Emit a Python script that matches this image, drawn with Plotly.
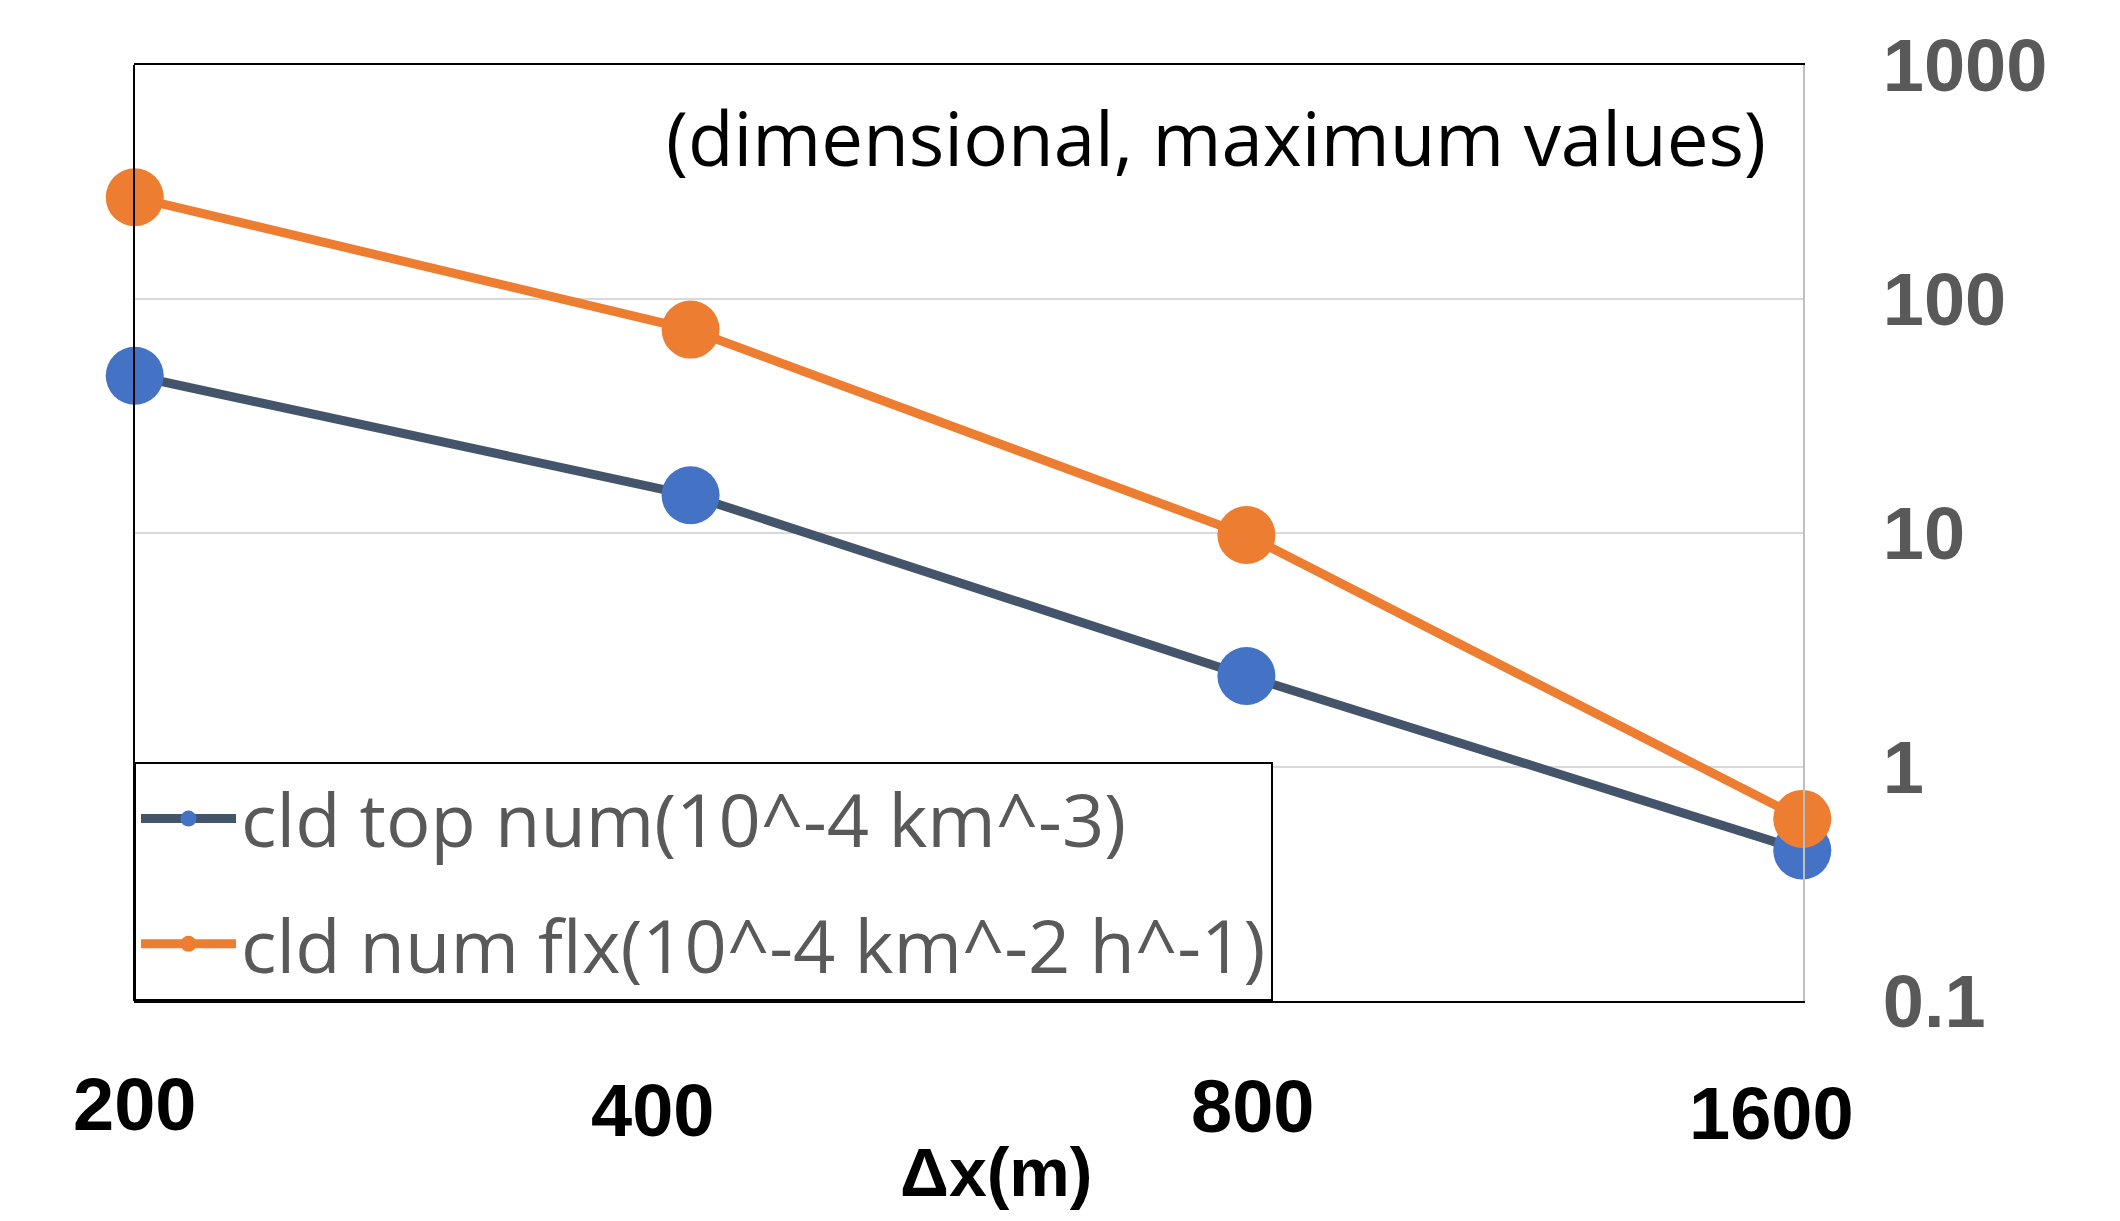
import numpy as np
import plotly.graph_objects as go

# ---- data ----
dx_m = [200, 400, 800, 1600]
cld_top_num = [47, 14.5, 2.45, 0.44]
cld_num_flx = [272, 74, 9.8, 0.6]
series_names = ["cld top num(10^-4 km^-3)", "cld num flx(10^-4 km^-2 h^-1)"]
x_tick_labels = ["200", "400", "800", "1600"]
y_tick_vals = [0.1, 1, 10, 100, 1000]
y_tick_labels = ["0.1", "1", "10", "100", "1000"]
note_text = "(dimensional, maximum values)"
x_title = "Δx(m)"

# ---- style ----
# page body has an 8px margin, so the figure is laid out 8px in from the window edge
OFF = 8
W, H = 2120 - 2 * OFF, 1221 - 2 * OFF
L, T = 134 - OFF, 65 - OFF
R = W - (1803 - OFF)
B = H - (1001 - OFF)
BLUE = "#4472C4"
SLATE = "#44546A"
ORANGE = "#ED7D31"
GRAY_TXT = "#595959"
# per-label pixel nudges for the x tick labels (they sit as free text boxes)
x_label_xshift = [0, -38, 6, -31]
x_label_yshift = [-103, -109, -105, -112]

fig = go.Figure()
fig.add_trace(go.Scatter(
    x=dx_m, y=cld_top_num, name=series_names[0], mode="lines+markers",
    line=dict(color=SLATE, width=9),
    marker=dict(color=BLUE, size=58, line=dict(width=0)),
    cliponaxis=False, legendgroup="a",
))
fig.add_trace(go.Scatter(
    x=dx_m, y=cld_num_flx, name=series_names[1], mode="lines+markers",
    line=dict(color=ORANGE, width=9),
    marker=dict(color=ORANGE, size=58, line=dict(width=0)),
    cliponaxis=False, legendgroup="b",
))

annotations = []
for v, lab, xs, ys in zip(dx_m, x_tick_labels, x_label_xshift, x_label_yshift):
    annotations.append(dict(
        x=np.log10(v), xref="x", y=0, yref="paper", text=lab, showarrow=False,
        xanchor="center", yanchor="middle", xshift=xs, yshift=ys,
        font=dict(family="Liberation Sans", size=74, color="black", weight="bold"),
    ))
annotations.append(dict(
    x=0.5165, xref="paper", y=0, yref="paper", text=x_title, showarrow=False,
    xanchor="center", yanchor="middle", yshift=-171,
    font=dict(family="Liberation Sans", size=68, color="black", weight="bold"),
))
annotations.append(dict(
    x=0.979, xref="paper", y=0.923, yref="paper", text=note_text, showarrow=False,
    xanchor="right", yanchor="middle",
    font=dict(family="Open Sans", size=74.5, color="black"),
))

fig.update_layout(
    width=W, height=H,
    margin=dict(l=L, r=R, t=T, b=B, pad=0),
    paper_bgcolor="white", plot_bgcolor="white",
    showlegend=True,
    legend=dict(
        x=0, y=0, xanchor="left", yanchor="bottom",
        bgcolor="white", bordercolor="black", borderwidth=2,
        font=dict(family="Open Sans", size=74, color=GRAY_TXT),
        itemsizing="trace", tracegroupgap=26, itemwidth=95,
    ),
    annotations=annotations,
    shapes=[dict(type="line", xref="paper", yref="paper", x0=0, x1=0, y0=0, y1=1,
                 line=dict(color="black", width=2), layer="above")],
)
pad = 0.0004
fig.update_xaxes(
    type="log", range=[np.log10(dx_m[0]) - pad, np.log10(dx_m[-1]) + pad],
    showgrid=False, zeroline=False, showticklabels=False, ticks="",
    showline=True, linecolor="black", linewidth=2, mirror=True,
)
fig.update_yaxes(
    type="log", range=[-1, 3], side="right",
    tickvals=y_tick_vals, ticktext=y_tick_labels,
    showgrid=True, gridcolor="#D9D9D9", gridwidth=2,
    showline=True, linecolor="#BFBFBF", linewidth=2,
    zeroline=False, ticks="", ticklabelstandoff=63,
    tickfont=dict(family="Liberation Sans", size=74, color=GRAY_TXT, weight="bold"),
)

fig.write_html("out.html")
